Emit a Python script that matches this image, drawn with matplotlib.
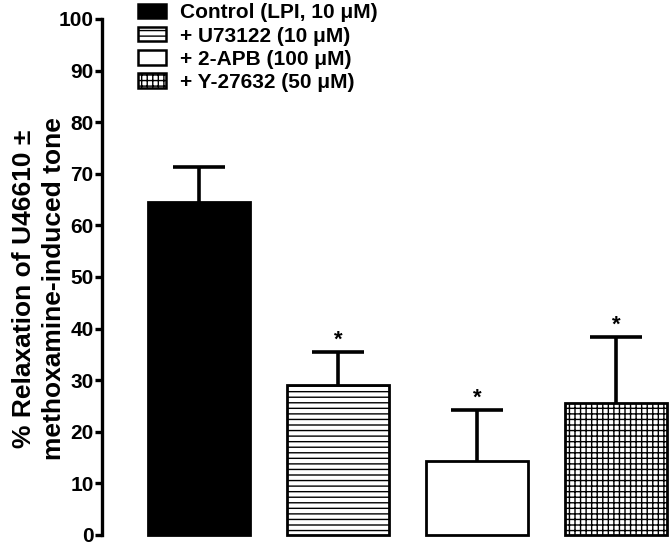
import numpy as np
import matplotlib
matplotlib.use("Agg")
import matplotlib.pyplot as plt
from matplotlib.patches import Patch

# ── Data ──────────────────────────────────
groups   = ["Control (LPI, 10 \u03bcM)", "+ U73122 (10 \u03bcM)",
            "+ 2-APB (100 \u03bcM)", "+ Y-27632 (50 \u03bcM)"]
means    = [64.5, 29.0, 14.4, 25.5]
sem      = [6.9, 6.5, 9.8, 12.8]
signif   = ["", "*", "*", "*"]
yticks   = list(range(0, 101, 10))

plt.rcParams["font.family"] = ["Liberation Sans", "DejaVu Sans"]
plt.rcParams["font.weight"] = "bold"
plt.rcParams["hatch.linewidth"] = 1.0

fig = plt.figure(figsize=(6.7, 5.46), dpi=100)
ax  = fig.add_axes([102 / 670, 11 / 546, 568 / 670, 516 / 546])

faces   = ["black", "white", "white", "white"]
hatches = [None, "---", None, "+++"]
x = np.arange(len(groups))
width = 0.734

for i in range(len(groups)):
    ax.bar(x[i], means[i], width=width, color=faces[i], hatch=hatches[i],
           edgecolor="black", linewidth=2.0, zorder=2, clip_on=False)

# upward-only error bars, lower cap hidden
eb = ax.errorbar(x, means, yerr=[np.zeros(len(sem)), sem], fmt="none",
                 ecolor="black", elinewidth=2.6, capsize=19, capthick=2.6,
                 zorder=3, clip_on=False)
eb[1][0].set_visible(False)

for i, s in enumerate(signif):
    if s:
        ax.annotate(s, (x[i], means[i] + sem[i]), xytext=(0, 1),
                    textcoords="offset points", ha="center", va="bottom",
                    fontsize=16, fontweight="bold")

ax.set_xlim(-0.698, 3.385)
ax.set_ylim(0, 100)
ax.set_yticks(yticks)
ax.set_xticks([])
for side in ["top", "right", "bottom"]:
    ax.spines[side].set_visible(False)
ax.spines["left"].set_linewidth(2.4)
ax.tick_params(axis="y", direction="out", length=5, width=2.4,
               labelsize=15, pad=1)
for lab in ax.get_yticklabels():
    lab.set_fontweight("bold")

fig.text(39 / 670, 1 - 289 / 546,
         "% Relaxation of U46610 \u00b1\nmethoxamine-induced tone",
         rotation=90, ha="center", va="center", fontsize=19,
         fontweight="bold", linespacing=1.3)

handles = [Patch(facecolor=faces[i], edgecolor="black", hatch=hatches[i],
                 linewidth=1.8) for i in range(len(groups))]
leg = fig.legend(handles, groups, loc="upper left",
                 bbox_to_anchor=(128 / 670, 1 + 7 / 546),
                 frameon=False, borderpad=0, handlelength=1.3,
                 handleheight=0.68, handletextpad=0.7, labelspacing=0.2,
                 prop={"size": 15, "weight": "bold"})

fig.savefig("out.png", dpi=100)
